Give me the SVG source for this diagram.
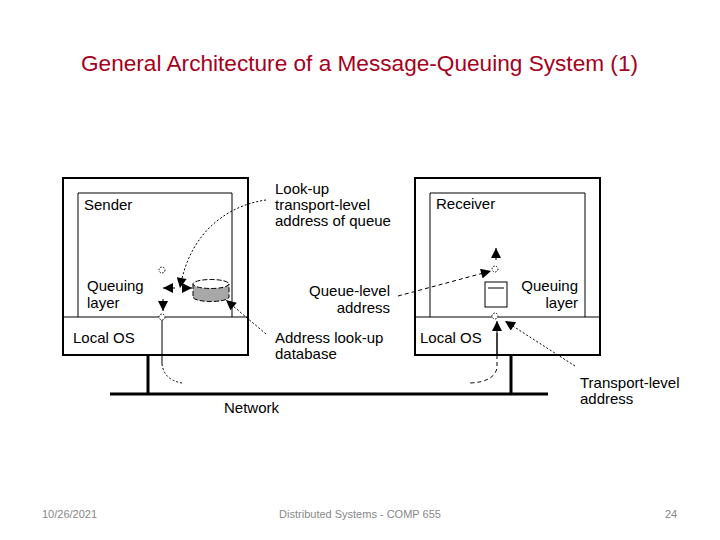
<svg xmlns="http://www.w3.org/2000/svg" width="720" height="540" viewBox="0 0 720 540">
<style>
.lbl{font-family:"Liberation Sans",Arial,sans-serif;font-size:15px;fill:#000}
.r{text-anchor:end}
.outer{fill:none;stroke:#000;stroke-width:2}
.thin{fill:none;stroke:#000;stroke-width:1}
.dot{fill:none;stroke:#000;stroke-width:1;stroke-dasharray:2 2}
.dash{fill:none;stroke:#000;stroke-width:1;stroke-dasharray:4 3}
.thick{fill:none;stroke:#000;stroke-width:3}
.foot{font-family:"Liberation Sans",Arial,sans-serif;font-size:11px;fill:#888}
.pt{fill:#fff;stroke:#000;stroke-width:1;stroke-dasharray:1.5 1.5}
</style>
<defs>
<marker id="ah" viewBox="0 0 10 10" refX="10" refY="5" markerWidth="11" markerHeight="10" markerUnits="userSpaceOnUse" orient="auto">
<path d="M0,0 L10,5 L0,10 z" fill="#000"/>
</marker>
</defs>
<rect width="720" height="540" fill="#fff"/>
<text x="81" y="71" textLength="557" lengthAdjust="spacingAndGlyphs" style="font-family:'Liberation Sans',Arial,sans-serif;font-size:22px;fill:#a50021">General Architecture of a Message-Queuing System (1)</text>

<g id="network">
<line class="thick" x1="110" y1="394" x2="548" y2="394"/>
<line class="thick" x1="148" y1="355" x2="148" y2="394"/>
<line class="thick" x1="511" y1="355" x2="511" y2="394"/>
<text class="lbl" x="224" y="413">Network</text>
</g>

<g id="sender">
<rect class="outer" x="63" y="178" width="185" height="177"/>
<polyline class="thin" points="78,317 78,193 232,193 232,317"/>
<line class="thin" x1="63" y1="317" x2="248" y2="317"/>
<text class="lbl" x="84" y="210">Sender</text>
<text class="lbl" x="87" y="291">Queuing</text>
<text class="lbl" x="87" y="308">layer</text>
<text class="lbl" x="73" y="343">Local OS</text>
</g>

<g id="queue-db">
<path d="M193,284 L193,297 A18,4.5 0 0 0 229,297 L229,284 Z" fill="#a8a8a8" stroke="#000" stroke-width="1" stroke-dasharray="5 2"/>
<ellipse cx="211" cy="284" rx="18" ry="4.5" fill="#fff" stroke="#000" stroke-width="1" stroke-dasharray="5 2"/>
</g>

<g id="receiver">
<rect class="outer" x="415" y="178" width="185" height="177"/>
<polyline class="thin" points="430,317 430,193 585,193 585,317"/>
<line class="thin" x1="415" y1="317" x2="600" y2="317"/>
<text class="lbl" x="436" y="209">Receiver</text>
<text class="lbl r" x="578" y="291">Queuing</text>
<text class="lbl r" x="578" y="308">layer</text>
<text class="lbl" x="420" y="343">Local OS</text>
</g>

<g id="receiver-queue">
<rect class="thin" x="485" y="282" width="22" height="25"/>
<line class="thin" x1="488" y1="288" x2="504" y2="288"/>
</g>

<g id="labels">
<text class="lbl" x="275" y="194">Look-up</text>
<text class="lbl" x="275" y="210">transport-level</text>
<text class="lbl" x="275" y="226">address of queue</text>
<text class="lbl r" x="390" y="296">Queue-level</text>
<text class="lbl r" x="390" y="313">address</text>
<text class="lbl" x="275" y="343">Address look-up</text>
<text class="lbl" x="275" y="359">database</text>
<text class="lbl" x="580" y="388">Transport-level</text>
<text class="lbl" x="580" y="404">address</text>
</g>

<g id="connectors">
<!-- sender side -->
<path class="dot" d="M266,200 C230,205 190,230 180,288" marker-end="url(#ah)"/>
<path d="M175,288 L163,288" class="thin" marker-end="url(#ah)"/>
<path d="M183,288 L192,288" class="thin" marker-end="url(#ah)"/>
<path d="M163,299 L163,311" class="thin" marker-end="url(#ah)"/>
<path class="dot" d="M266,334 L226,300" marker-end="url(#ah)"/>
<line class="thin" x1="162" y1="320" x2="162" y2="364"/>
<path class="dot" d="M162,364 Q164,380 182,383"/>
<circle class="pt" cx="162" cy="270" r="3"/>
<circle class="pt" cx="162" cy="317" r="3"/>
<!-- receiver side -->
<path class="dash" d="M398,296 L491,271" marker-end="url(#ah)"/>
<path d="M496,260 L496,248" class="thin" marker-end="url(#ah)"/>
<line class="thin" x1="497" y1="333" x2="497" y2="355"/>
<path d="M497,355 L497,321" class="thin" marker-end="url(#ah)"/>
<path class="dash" d="M497,355 L497,368 Q494,382 470,383"/>
<path class="dot" d="M575,366 L505,321" marker-end="url(#ah)"/>
<circle class="pt" cx="495" cy="269" r="3"/>
<circle class="pt" cx="495" cy="316" r="3"/>
</g>

<g id="footer">
<text class="foot" x="42" y="518">10/26/2021</text>
<text class="foot" x="360" y="518" text-anchor="middle">Distributed Systems - COMP 655</text>
<text class="foot" x="665" y="518">24</text>
</g>
</svg>
